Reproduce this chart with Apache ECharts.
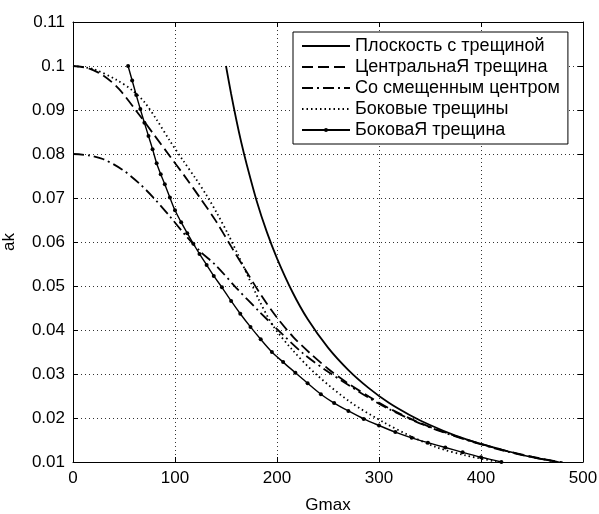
<!DOCTYPE html>
<html>
<head>
<meta charset="utf-8">
<script src="https://cdn.jsdelivr.net/npm/echarts@6/dist/echarts.min.js"></script>
<style>
  html, body { margin: 0; padding: 0; background: #fff; }
  #chart { width: 599px; height: 514px; }
</style>
</head>
<body>
<div id="chart"></div>
<script>
// ---- data ----
const seriesNames = ['Плоскость с трещиной', 'ЦентральнаЯ трещина', 'Со смещенным центром', 'Боковые трещины', 'БоковаЯ трещина'];

const xTicks = [0, 100, 200, 300, 400, 500];
const yTicks = [0.01, 0.02, 0.03, 0.04, 0.05, 0.06, 0.07, 0.08, 0.09, 0.1, 0.11];

const solidX = [150,155,160,165,170,180,190,200,215,230,250,270,290,310,330,350,375,400,425,450,475];
const solidY = [0.1,0.0937,0.0879,0.0826,0.0779,0.0694,0.0623,0.0563,0.0487,0.0425,0.036,0.0309,0.0268,0.0234,0.0207,0.0184,0.016,0.0141,0.0125,0.0111,0.0100];

const dashX = [0,15,30,45,63,80,95,110,125,140,155,170,185,200,216,232,250,270,290,310,335,360,390,420,450,480];
const dashY = [0.1,0.0995,0.0978,0.0948,0.0895,0.0842,0.0795,0.0748,0.0699,0.0648,0.059,0.0533,0.0477,0.0428,0.0384,0.0348,0.0312,0.0278,0.0249,0.0222,0.0194,0.0171,0.0148,0.0128,0.0112,0.0099];

const dashDotX = [0,15,30,48,65,80,95,110,125,140,160,183,205,226,250,270,290,310,335,360,390,420,450,480];
const dashDotY = [0.08,0.0797,0.0788,0.0765,0.0733,0.0698,0.0658,0.0616,0.0578,0.0547,0.0496,0.0441,0.0391,0.0346,0.0305,0.0275,0.0246,0.022,0.0193,0.017,0.0147,0.0127,0.0111,0.0098];

const dotX = [0,20,43,58,70,82,95,108,120,131,141,152,162,172,182,196,215,239,272,304,330,357,385,415];
const dotY = [0.1,0.0993,0.0968,0.0945,0.0918,0.0878,0.083,0.0785,0.0745,0.0706,0.0666,0.0618,0.057,0.052,0.047,0.041,0.0355,0.0298,0.0236,0.0191,0.016,0.0133,0.0115,0.0101];

const markX = [54,58,62,66,70,74,78,82,86,90,95,100,106,112,118,124,131,138,146,155,164,174,184,195,206,218,230,243,256,270,285,300,316,332,348,365,382,400,420];
const markY = [0.1,0.0967,0.0934,0.0902,0.0871,0.0841,0.0811,0.0779,0.0754,0.0731,0.0701,0.0672,0.0645,0.062,0.0596,0.0573,0.0548,0.0523,0.0497,0.0466,0.0437,0.0407,0.0379,0.035,0.0327,0.0303,0.0279,0.0254,0.0234,0.0216,0.0198,0.0183,0.0168,0.0155,0.0144,0.0133,0.0122,0.0111,0.01];

// ---- chart ----
const FONT = '"Liberation Sans", Arial, sans-serif';
const pairs = (xs, ys) => xs.map((x, i) => [x, ys[i]]);
const fmtY = v => String(+(+v).toFixed(2));

const chart = echarts.init(document.getElementById('chart'), null, { renderer: 'canvas' });

const baseAxis = {
  type: 'value',
  axisLine: { show: true, onZero: false, lineStyle: { color: '#000', width: 1 } },
  axisTick: { show: true, inside: true, length: 5, lineStyle: { color: '#000' } },
};

const lineSeries = (name, xs, ys, type, width) => ({
  name, type: 'line', data: pairs(xs, ys),
  symbol: 'none', smooth: 0.3,
  lineStyle: { color: '#000', width, type },
  itemStyle: { color: '#000' },
  z: 3
});

chart.setOption({
  animation: false,
  backgroundColor: '#fff',
  textStyle: { fontFamily: FONT },
  grid: { left: 73, right: 16, top: 22, bottom: 52, containLabel: false, outerBoundsMode: 'none' },
  legend: {
    orient: 'vertical', left: 293, top: 32,
    backgroundColor: '#fff', borderColor: '#000', borderWidth: 1,
    padding: [5, 8, 5, 8], itemGap: 3, itemWidth: 48, itemHeight: 5,
    textStyle: { color: '#000', fontSize: 18, fontFamily: FONT, lineHeight: 18 },
    data: [
      { name: seriesNames[0], itemStyle: { opacity: 0 } },
      { name: seriesNames[1], itemStyle: { opacity: 0 } },
      { name: seriesNames[2], itemStyle: { opacity: 0 } },
      { name: seriesNames[3], itemStyle: { opacity: 0 } },
      { name: seriesNames[4] }
    ]
  },
  xAxis: [
    Object.assign({}, baseAxis, {
      position: 'bottom', min: xTicks[0], max: xTicks[xTicks.length - 1], interval: 100,
      axisLabel: { color: '#000', fontSize: 17, fontFamily: FONT, margin: 8 },
      splitLine: { show: true, lineStyle: { color: '#333', type: [1, 3], width: 1 } },
      name: 'Gmax', nameLocation: 'middle', nameGap: 35,
      nameTextStyle: { color: '#000', fontSize: 17, fontFamily: FONT }
    }),
    Object.assign({}, baseAxis, {
      position: 'top', min: xTicks[0], max: xTicks[xTicks.length - 1], interval: 100,
      axisLabel: { show: false }, splitLine: { show: false }
    })
  ],
  yAxis: [
    Object.assign({}, baseAxis, {
      position: 'left', min: yTicks[0], max: yTicks[yTicks.length - 1], interval: 0.01,
      axisLabel: { color: '#000', fontSize: 17, fontFamily: FONT, margin: 8, formatter: fmtY },
      splitLine: { show: true, lineStyle: { color: '#333', type: [1, 3], width: 1 } },
      name: 'ak', nameLocation: 'middle', nameGap: 55, nameRotate: 90,
      nameTextStyle: { color: '#000', fontSize: 17, fontFamily: FONT }
    }),
    Object.assign({}, baseAxis, {
      position: 'right', min: yTicks[0], max: yTicks[yTicks.length - 1], interval: 0.01,
      axisLabel: { show: false }, splitLine: { show: false }
    })
  ],
  series: [
    lineSeries(seriesNames[0], solidX, solidY, 'solid', 1.8),
    lineSeries(seriesNames[1], dashX, dashY, [11, 5], 1.8),
    lineSeries(seriesNames[2], dashDotX, dashDotY, [11, 4, 2, 4], 1.8),
    lineSeries(seriesNames[3], dotX, dotY, [1.5, 3], 1.8),
    {
      name: seriesNames[4], type: 'line', data: pairs(markX, markY),
      symbol: 'circle', symbolSize: 4, showSymbol: true, smooth: 0.3,
      lineStyle: { color: '#000', width: 1.4, type: 'solid' },
      itemStyle: { color: '#000', borderWidth: 0 },
      z: 4
    }
  ]
});
</script>
</body>
</html>
